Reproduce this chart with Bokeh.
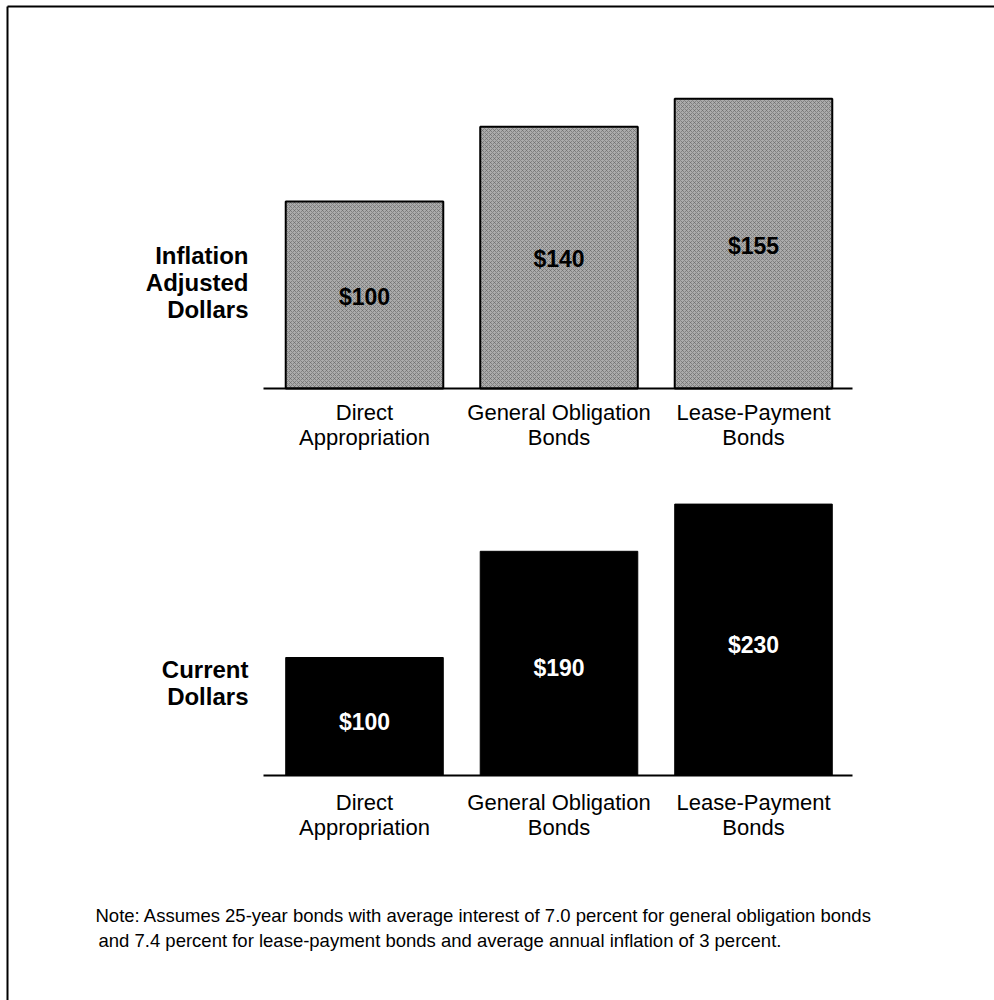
from bokeh.plotting import figure
from bokeh.models import Range1d
from bokeh.core.properties import value
from bokeh.embed import file_html
from bokeh.resources import INLINE

# ---------------- data ----------------
categories = ["Direct Appropriation", "General Obligation Bonds", "Lease-Payment Bonds"]
category_labels = ["Direct\nAppropriation", "General Obligation\nBonds", "Lease-Payment\nBonds"]
inflation_adjusted = [100, 140, 155]
current_dollars = [100, 190, 230]
adjusted_labels = ["$100", "$140", "$155"]
current_labels = ["$100", "$190", "$230"]
row_titles = ["Inflation\nAdjusted\nDollars", "Current\nDollars"]
note_lines = [
    "Note: Assumes 25-year bonds with average interest of 7.0 percent for general obligation bonds",
    "and 7.4 percent for lease-payment bonds and average annual inflation of 3 percent.",
]

# ---------------- layout (pixels) ----------------
W, H = 994, 1000
FONT = "Liberation Sans"
cat_x0, cat_step = 364.0, 194.5          # pixel centre of first bar, spacing
top_zero, top_scale = 388.0, 1.87        # baseline pixel, px per dollar
bot_zero, bot_scale = 775.0, 1.18
idx = list(range(len(categories)))
# vertical placement of the value labels inside bars (in dollar units of each panel)
adj_label_pos = [49, 69, 76]
cur_label_pos = [45, 91, 111]

p = figure(width=W, height=H, output_backend="svg", toolbar_location=None,
           x_range=Range1d(0, W), y_range=Range1d(H, 0),
           x_axis_location=None, y_axis_location=None,
           min_border=0, outline_line_color=None,
           background_fill_color="white", border_fill_color="white")
p.xgrid.visible = False
p.ygrid.visible = False

p.extra_x_ranges = {"cat": Range1d(-cat_x0 / cat_step, (W - cat_x0) / cat_step)}
p.extra_y_ranges = {
    "top": Range1d(-(H - top_zero) / top_scale, top_zero / top_scale),
    "bot": Range1d(-(H - bot_zero) / bot_scale, bot_zero / bot_scale),
}

# frame lines
p.segment(x0=[7, 7], y0=[6, 6], x1=[W, 7], y1=[6, H], line_color="black", line_width=2)

# --- top panel: inflation adjusted ---
p.vbar(x=idx, top=inflation_adjusted, bottom=0, width=0.81,
       x_range_name="cat", y_range_name="top",
       fill_color="#ababab", line_color="black", line_width=2,
       hatch_pattern="diagonal_cross", hatch_color="#5e5e5e",
       hatch_scale=4, hatch_weight=1, hatch_alpha=0.55)
p.segment(x0=[263], x1=[852], y0=[0], y1=[0],
          y_range_name="top", line_color="black", line_width=2)
p.text(x=idx, y=adj_label_pos, text=adjusted_labels, x_range_name="cat", y_range_name="top",
       text_align="center", text_baseline="middle", text_color="black",
       text_font=value(FONT), text_font_style="bold", text_font_size="23px")
p.text(x=idx, y=[399] * 3, text=category_labels, x_range_name="cat",
       text_align="center", text_baseline="top", text_color="black",
       text_font=value(FONT), text_font_size="22px", line_height=1.0)

# --- bottom panel: current dollars ---
p.vbar(x=idx, top=current_dollars, bottom=0, width=0.81,
       x_range_name="cat", y_range_name="bot",
       fill_color="black", line_color="black", line_width=1)
p.segment(x0=[263], x1=[852], y0=[0], y1=[0],
          y_range_name="bot", line_color="black", line_width=2)
p.text(x=idx, y=cur_label_pos, text=current_labels, x_range_name="cat", y_range_name="bot",
       text_align="center", text_baseline="middle", text_color="white",
       text_font=value(FONT), text_font_style="bold", text_font_size="23px")
p.text(x=idx, y=[789] * 3, text=category_labels, x_range_name="cat",
       text_align="center", text_baseline="top", text_color="black",
       text_font=value(FONT), text_font_size="22px", line_height=1.0)

# --- row titles ---
p.text(x=[248, 248], y=[282, 682], text=row_titles,
       text_align="right", text_baseline="middle", text_color="black",
       text_font=value(FONT), text_font_style="bold", text_font_size="24px", line_height=1.0)

# --- note ---
p.text(x=[95, 98], y=[915, 940], text=note_lines,
       text_align="left", text_baseline="middle", text_color="black",
       text_font=value(FONT), text_font_size="18.5px")

open("out.html", "w").write(file_html(p, INLINE))
